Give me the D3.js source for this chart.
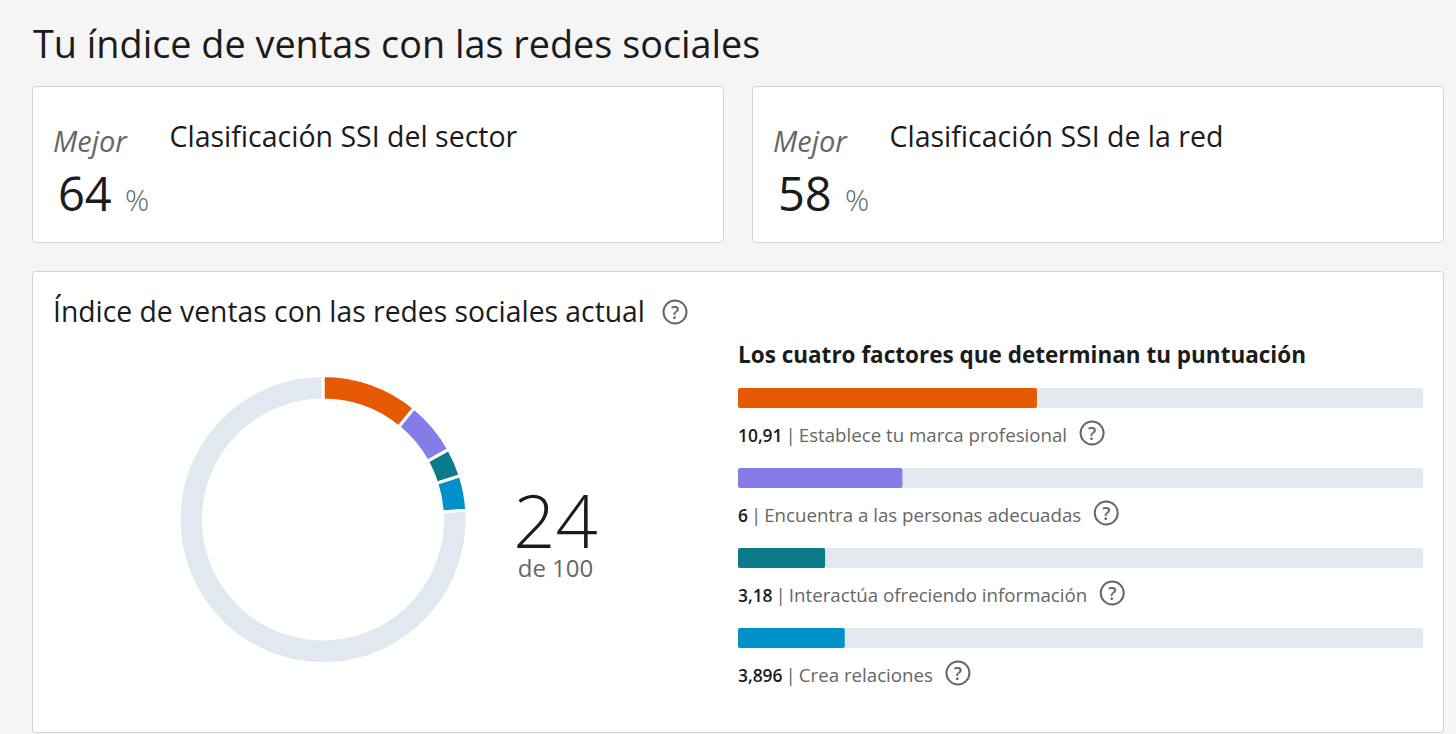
<!DOCTYPE html>
<html lang="es">
<head>
    <meta charset="UTF-8">
    <title>Tu índice de ventas con las redes sociales</title>
    <style>
        html, body { margin: 0; padding: 0; background: #f5f5f5; overflow: hidden; }
        svg { display: block; }
        text { font-family: "Open Sans", "Noto Sans", sans-serif; }
    </style>
</head>
<body>
    <script src="https://cdnjs.cloudflare.com/ajax/libs/d3/7.8.5/d3.min.js"></script>
<script>
    const factorLabels = ["Establece tu marca profesional", "Encuentra a las personas adecuadas", "Interactúa ofreciendo información", "Crea relaciones"];
    const factorValues = [10.91, 6, 3.18, 3.896];
    const factorText = ["10,91", "6", "3,18", "3,896"];
    const factorColors = ["#e55a00", "#867ce8", "#0b7a8a", "#0091ca"];
    const rankTitles = ["Clasificación SSI del sector", "Clasificación SSI de la red"];
    const rankValues = [64, 58];
    const scoreText = "24";
    const scoreMax = 100;
    const factorMax = 25;

    const width = 1456;
    const height = 734;
    const track = "#e1e8ef";
    const ink = "#1b1b1b";
    const grey = "#666666";

    const svg = d3.select("body").append("svg")
        .attr("width", width)
        .attr("height", height);

    function card(x, y, w, h) {
        svg.append("rect")
            .attr("x", x + 0.5).attr("y", y + 0.5)
            .attr("width", w).attr("height", h)
            .attr("rx", 3)
            .attr("fill", "#fff")
            .attr("stroke", "#d3d3d3");
    }

    function help(x, y) {
        const g = svg.append("g").attr("transform", `translate(${x},${y})`);
        g.append("circle").attr("r", 11.5).attr("fill", "none").attr("stroke", grey).attr("stroke-width", 2);
        g.append("text").attr("text-anchor", "middle").attr("y", 6.5)
            .attr("font-size", 18).attr("font-weight", 600).attr("fill", grey).text("?");
    }

    svg.append("text").attr("x", 33).attr("y", 58)
        .attr("font-size", 37.8).attr("fill", ink)
        .text("Tu índice de ventas con las redes sociales");

    // top cards
    rankValues.forEach((v, i) => {
        const x0 = i * 720;
        card(32 + x0, 86, 691, 156);
        svg.append("text").attr("x", 53 + x0).attr("y", 152)
            .attr("font-size", 29).attr("font-style", "italic").attr("fill", grey).text("Mejor");
        svg.append("text").attr("x", 169.5 + x0).attr("y", 146.5)
            .attr("font-size", 28.5).attr("fill", ink).text(rankTitles[i]);
        svg.append("text").attr("x", 58 + x0).attr("y", 211)
            .attr("font-size", 47).attr("fill", ink).text(v);
        svg.append("text").attr("x", 125 + x0).attr("y", 210.5)
            .attr("font-size", 30).attr("font-weight", 300).attr("fill", grey).text("%");
    });

    // main card
    card(32, 271, 1411, 461);
    svg.append("text").attr("x", 53).attr("y", 322)
        .attr("font-size", 28.3).attr("fill", ink)
        .text("Índice de ventas con las redes sociales actual");
    help(675, 312);

    // donut
    const rest = scoreMax - d3.sum(factorValues);
    const pie = d3.pie().sort(null).value(d => d);
    const arc = d3.arc().innerRadius(119.5).outerRadius(144);
    svg.append("g").attr("transform", "translate(323,519.5)")
        .selectAll("path")
        .data(pie(factorValues.concat([rest])))
        .join("path")
        .attr("d", arc)
        .attr("fill", (d, i) => factorColors[i] || track)
        .attr("stroke", "#fff")
        .attr("stroke-width", 3);

    svg.append("text").attr("x", 555.5).attr("y", 548).attr("text-anchor", "middle")
        .attr("font-size", 74).attr("font-weight", 300).attr("fill", ink).text(scoreText);
    svg.append("text").attr("x", 555.5).attr("y", 577).attr("text-anchor", "middle")
        .attr("font-size", 24).attr("fill", grey).text("de " + scoreMax);

    // factor bars
    svg.append("text").attr("x", 738).attr("y", 363)
        .attr("font-size", 22.5).attr("font-weight", 700).attr("fill", ink)
        .text("Los cuatro factores que determinan tu puntuación");

    const x = d3.scaleLinear().domain([0, factorMax]).range([738, 1423]);
    const y = d3.scaleBand().domain(d3.range(factorValues.length)).range([388, 708]);

    factorValues.forEach((v, i) => {
        const top = y(i);
        svg.append("rect").attr("x", x(0)).attr("y", top)
            .attr("width", x(factorMax) - x(0)).attr("height", 20).attr("rx", 2).attr("fill", track);
        svg.append("rect").attr("x", x(0)).attr("y", top)
            .attr("width", x(v) - x(0)).attr("height", 20).attr("rx", 2).attr("fill", factorColors[i]);

        const label = svg.append("text").attr("x", 738).attr("y", top + 54);
        label.append("tspan").attr("font-size", 17.4).attr("font-weight", 600).attr("fill", ink).text(factorText[i]);
        label.append("tspan").attr("font-size", 18.7).attr("fill", grey).attr("dx", 3).text("|");
        label.append("tspan").attr("font-size", 18.7).attr("fill", grey).attr("dx", 3).text(factorLabels[i]);
        help(738 + label.node().getComputedTextLength() + 6 + 25, top + 45);
    });
</script>
</body>
</html>
